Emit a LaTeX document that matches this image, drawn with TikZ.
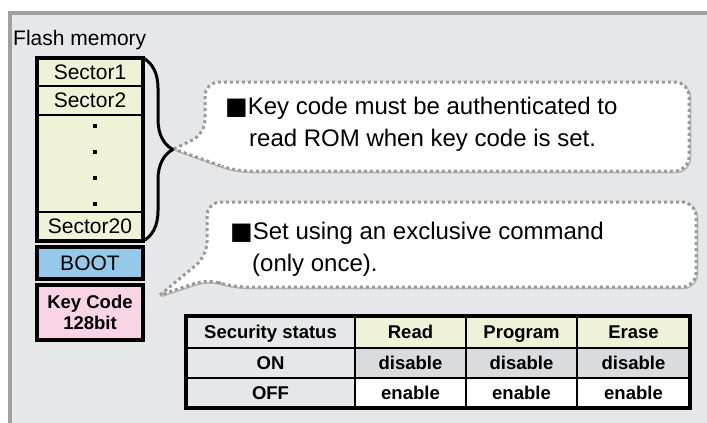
\documentclass[tikz,border=0pt]{standalone}
\usepackage{fontspec}
\setmainfont{Liberation Sans}
\newfontfamily\symfont{DejaVu Sans}
\usetikzlibrary{positioning,decorations.pathreplacing}
\definecolor{panel}{HTML}{E6E7E8}
\definecolor{rim}{HTML}{A0A0A0}
\definecolor{sectorfill}{HTML}{F0F2D8}
\definecolor{bootfill}{HTML}{96C8EA}
\definecolor{keyfill}{HTML}{F9D4E4}
\definecolor{lockgray}{HTML}{DADBDD}
\definecolor{dotgray}{HTML}{9A9A9A}
\newcommand{\blk}{{\symfont ■}}

\begin{document}
\begin{tikzpicture}[x=1pt,y=-1pt,
  mem/.style={draw,line width=2.5pt,fill=sectorfill,minimum width=106pt,inner sep=0pt,outer sep=0pt,
    text height=15pt,text depth=1pt,font=\fontsize{21}{24}\selectfont},
  cell/.style={draw,line width=2pt,minimum height=30pt,inner sep=0pt,outer sep=0pt,
    text height=13pt,text depth=1pt,font=\fontsize{18.5}{21}\selectfont\bfseries},
  callout/.style={fill=white,draw=dotgray,line width=3pt,dash pattern=on 3pt off 3pt,rounded corners=14pt,
    preaction={draw=black!28,line width=1.5pt,solid,transform canvas={shift={(1.5pt,-1.5pt)}}}},
  note/.style={anchor=west,align=left,inner sep=0pt,font=\fontsize{24}{32}\selectfont}]

% panel
\useasboundingbox (0,0) rectangle (707,423);
\fill[panel] (8,11) rectangle (707,423);
\draw[rim,line width=4pt] (9.5,423) -- (9.5,12.5) -- (707,12.5);

% flash memory
\node[anchor=west,inner sep=0pt,font=\fontsize{21}{24}\selectfont] (flash) at (13,40) {Flash memory};
\node[mem,minimum height=28pt] (s1) at (90,72) {Sector1};
\node[mem,minimum height=29pt,below=0pt of s1] (s2) {Sector2};
\node[mem,minimum height=97pt,below=0pt of s2] (gap) {};
\node[mem,minimum height=29pt,below=0pt of gap] (s20) {Sector20};
\draw[line width=4pt] (s1.north west) rectangle (s20.south east);
\foreach \y in {124,150,176,202}
  \fill (92.5,\y) rectangle +(4,4);

\node[mem,fill=bootfill,line width=4pt,minimum height=32pt] (boot) at (90,263) {BOOT};
\node[mem,fill=keyfill,line width=4pt,minimum height=55pt,align=center,text height=,text depth=,
  font=\fontsize{18.5}{21}\selectfont\bfseries] (key) at (90,312.5) {Key Code\\128bit};

% brace
\draw[line width=3pt,decorate,decoration={brace,amplitude=30pt}] (s1.north east) -- (s20.south east);

% callouts
\coordinate (tip1) at (174,149);
\draw[callout] (tip1) -- (205,134) -- (205,82) -- (689,82) -- (689,171) -- (235,171) -- (210,162) -- (tip1);
\node[note] (txt1) at (225,124) {\blk Key code must be authenticated to\\\hspace{24pt}read ROM when key code is set.};

\coordinate (tip2) at (160,295);
\draw[callout] (tip2) -- (207,256) -- (207,202) -- (696,202) -- (696,287) -- (232,287) -- (208,279) -- (tip2);
\node[note] (txt2) at (230,249) {\blk Set using an exclusive command\\\hspace{22pt}(only once).};

% table
\node[cell,fill=panel,minimum width=169pt,minimum height=32pt] (hd) at (270.5,332) {Security status};
\node[cell,fill=sectorfill,minimum width=111pt,minimum height=32pt,right=0pt of hd] (hdrd) {Read};
\node[cell,fill=sectorfill,minimum width=111pt,minimum height=32pt,right=0pt of hdrd] (hdpg) {Program};
\node[cell,fill=sectorfill,minimum width=113pt,minimum height=32pt,right=0pt of hdpg] (hder) {Erase};
\node[cell,fill=panel,minimum width=169pt,below=0pt of hd] (on) {ON};
\node[cell,fill=lockgray,minimum width=111pt,right=0pt of on] (onrd) {disable};
\node[cell,fill=lockgray,minimum width=111pt,right=0pt of onrd] (onpg) {disable};
\node[cell,fill=lockgray,minimum width=113pt,right=0pt of onpg] (oner) {disable};
\node[cell,fill=panel,minimum width=169pt,below=0pt of on] (off) {OFF};
\node[cell,fill=white,minimum width=111pt,right=0pt of off] (offrd) {enable};
\node[cell,fill=white,minimum width=111pt,right=0pt of offrd] (offpg) {enable};
\node[cell,fill=white,minimum width=113pt,right=0pt of offpg] (offer) {enable};
\draw[line width=4pt] (hd.north west) rectangle (offer.south east);
\end{tikzpicture}
\end{document}
